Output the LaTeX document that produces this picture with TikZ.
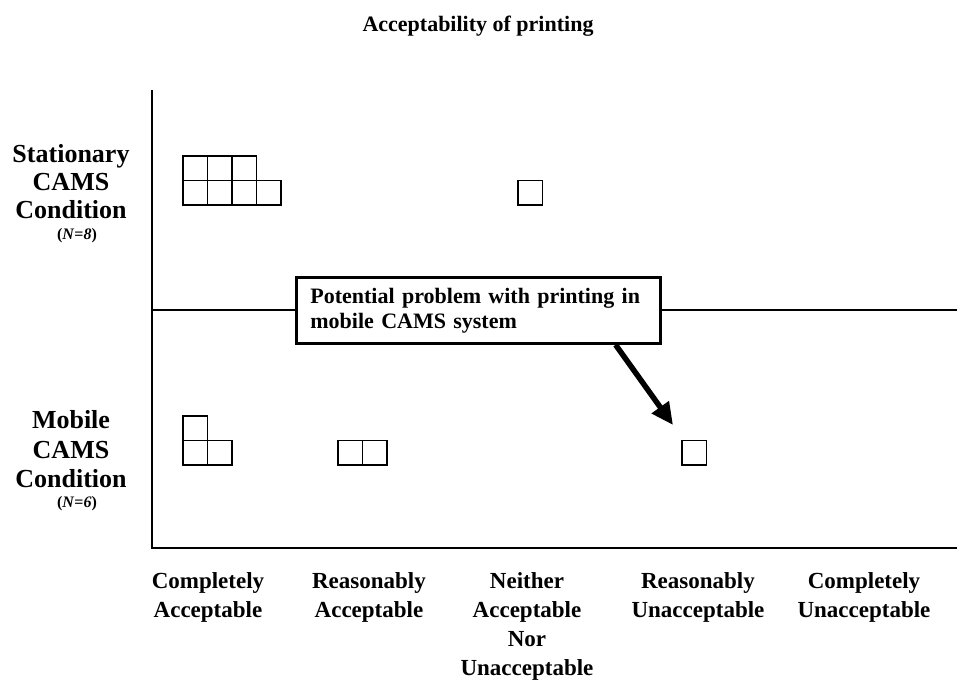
\documentclass[tikz,border=0pt]{standalone}
\usepackage{fontspec}
\setmainfont{Liberation Serif}
\usetikzlibrary{arrows.meta,calc}
\begin{document}
\begin{tikzpicture}[x=1pt,y=-1pt,
  lbl/.style={font=\bfseries\fontsize{26}{30}\selectfont, anchor=base, inner sep=0pt},
  nlbl/.style={font=\bfseries\fontsize{16}{18}\selectfont, anchor=base, inner sep=0pt},
  cat/.style={font=\bfseries\fontsize{23}{28}\selectfont, anchor=base, inner sep=0pt},
  ttl/.style={font=\bfseries\fontsize{22}{26}\selectfont, anchor=base, inner sep=0pt},
  cell/.style={draw, line width=1.8pt, minimum size=24.5pt, inner sep=0pt, anchor=north west},
  axis/.style={line width=1.8pt},
  divider/.style={line width=1.1pt},
  callout/.style={draw, line width=2.8pt, fill=white, minimum width=364pt, minimum height=66pt,
    anchor=north west, text width=336pt, align=left, font=\bfseries\fontsize{22}{25}\selectfont, inner sep=0pt},
  pointer/.style={line width=5.5pt, -{Triangle[length=22pt,width=20pt]}}
]
\useasboundingbox (0,0) rectangle (957,683);

% title
\node[ttl] (title) at (478,31) {Acceptability of printing};

% axes and divider
\coordinate (ytop) at (152,90);
\coordinate (origin) at (152,548);
\coordinate (xend) at (957,548);
\coordinate (divl) at (152,310);
\coordinate (divr) at (957,310);
\draw[axis] (ytop) -- (origin) -- (xend);
\draw[divider] (divl) -- (divr);

% row labels
\node[lbl] (st1) at (71,162) {Stationary};
\node[lbl] (st2) at (71,190) {CAMS};
\node[lbl] (st3) at (71,218) {Condition};
\node[nlbl] (st4) at (77,239) {(\textit{N}=\textit{8})};
\node[lbl] (mo1) at (71,428) {Mobile};
\node[lbl] (mo2) at (71,458) {CAMS};
\node[lbl] (mo3) at (71,487) {Condition};
\node[nlbl] (mo4) at (77,507) {(\textit{N}=\textit{6})};

% category labels
\node[cat] (c1a) at (208,588) {Completely};
\node[cat] (c1b) at (208,617) {Acceptable};
\node[cat] (c2a) at (369,588) {Reasonably};
\node[cat] (c2b) at (369,617) {Acceptable};
\node[cat] (c3a) at (527,588) {Neither};
\node[cat] (c3b) at (527,617) {Acceptable};
\node[cat] (c3c) at (527,646) {Nor};
\node[cat] (c3d) at (527,675) {Unacceptable};
\node[cat] (c4a) at (698,588) {Reasonably};
\node[cat] (c4b) at (698,617) {Unacceptable};
\node[cat] (c5a) at (864,588) {Completely};
\node[cat] (c5b) at (864,617) {Unacceptable};

% stationary responses
\node[cell] (s1) at (182,155) {};
\node[cell] (s2) at (206.5,155) {};
\node[cell] (s3) at (231,155) {};
\node[cell] (s4) at (182,179.5) {};
\node[cell] (s5) at (206.5,179.5) {};
\node[cell] (s6) at (231,179.5) {};
\node[cell] (s7) at (255.5,179.5) {};
\node[cell] (s8) at (517,179.5) {};

% mobile responses
\node[cell] (m1) at (182,415) {};
\node[cell] (m2) at (182,439.5) {};
\node[cell] (m3) at (206.5,439.5) {};
\node[cell] (m4) at (337,439.5) {};
\node[cell] (m5) at (361.5,439.5) {};
\node[cell] (m6) at (681,439.5) {};

% callout
\node[callout] (callout) at (295,276) {Potential problem with printing in\\mobile CAMS system};
\coordinate (tip) at (673,425);
\draw[pointer] ($(callout.south west)!0.874!(callout.south east)$) -- (tip);
\end{tikzpicture}
\end{document}
